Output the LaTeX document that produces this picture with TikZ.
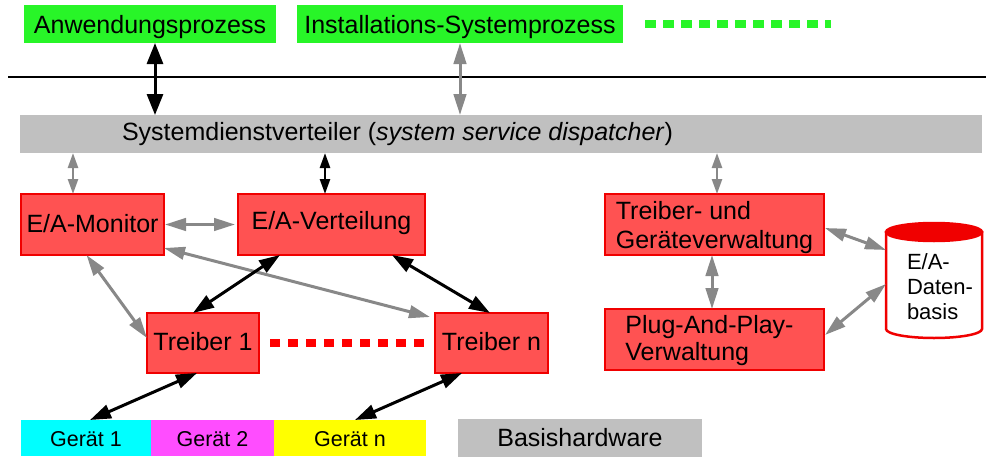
\documentclass[tikz,border=0pt]{standalone}
\usepackage{fontspec}
\setmainfont{Liberation Sans}
\usetikzlibrary{arrows.meta}
\definecolor{boxgreen}{RGB}{40,245,40}
\definecolor{boxred}{RGB}{255,82,82}
\definecolor{bordred}{RGB}{240,0,0}
\definecolor{bargray}{RGB}{192,192,192}
\definecolor{arrgray}{RGB}{136,136,136}
\definecolor{gcyan}{RGB}{0,255,255}
\definecolor{gmag}{RGB}{255,77,255}
\definecolor{gyel}{RGB}{255,255,0}
\begin{document}
\begin{tikzpicture}[x=1pt,y=-1pt,
 every node/.style={inner sep=0pt, outer sep=0pt, font=\fontsize{25}{29}\selectfont, text height=18pt},
 procbox/.style={fill=boxgreen, minimum height=38pt, text depth=0pt},
 redbox/.style={fill=boxred, draw=bordred, line width=2pt, align=left},
 devbox/.style={minimum height=36pt, text depth=0.6pt, font=\fontsize{21.5}{26}\selectfont},
 blk/.style={draw=black, line width=3pt, {Triangle[length=21pt,width=14pt]}-{Triangle[length=21pt,width=14pt]}},
 blkbig/.style={draw=black, line width=3pt, {Triangle[length=21pt,width=16pt]}-{Triangle[length=21pt,width=16pt]}},
 blksmall/.style={draw=black, line width=2.5pt, {Triangle[length=15pt,width=10pt]}-{Triangle[length=15pt,width=10pt]}},
 gry/.style={draw=arrgray, line width=3pt, {Triangle[length=21pt,width=12.5pt]}-{Triangle[length=21pt,width=12.5pt]}},
 grysmall/.style={draw=arrgray, line width=2.5pt, {Triangle[length=15pt,width=10pt]}-{Triangle[length=15pt,width=10pt]}},
 dotline/.style={line width=8pt, dash pattern=on 10pt off 8pt},
]
\useasboundingbox (0,0) rectangle (997,461);

% top processes
\node[procbox, minimum width=252pt] (anw) at (150,24) {Anwendungsprozess};
\node[procbox, minimum width=326pt] (inst) at (460,24) {Installations-Systemprozess};
\draw[dotline, draw=boxgreen, dash pattern=on 11pt off 7pt] ([xshift=22pt]inst.east) -- ([xshift=208pt]inst.east);

% separator line
\coordinate (la) at (8,77);
\coordinate (lb) at (986,77);
\draw[line width=2.5pt] (la) -- (lb);

% dispatcher
\node[fill=bargray, minimum width=962pt, minimum height=38pt] (bar) at (501,134) {};
\node[anchor=west, text depth=6pt] (bartxt) at (122,134) {Systemdienstverteiler (\textit{system service dispatcher})};

% red boxes
\node[redbox, minimum width=143pt, minimum height=61pt, text depth=1.6pt] (mon) at (92.5,224.5) {E/A-Monitor};
\node[redbox, minimum width=187pt, minimum height=61pt, text depth=8.4pt] (vert) at (331.5,224.5) {E/A-Verteilung};
\node[redbox, minimum width=112pt, minimum height=60pt, text depth=4pt] (tr1) at (203,343) {Treiber 1};
\node[redbox, minimum width=113pt, minimum height=60pt, text depth=4pt] (trn) at (491.5,343) {Treiber n};
\node[redbox, minimum width=219pt, minimum height=61pt, text height=48pt, text depth=0.4pt, font=\fontsize{25}{29.3}\selectfont] (tgv) at (714.5,224.5) {Treiber- und\\Geräteverwaltung};
\node[redbox, minimum width=219pt, minimum height=61pt, text height=43pt, text depth=0.6pt, font=\fontsize{25}{27.4}\selectfont] (pnp) at (714.5,339.5) {Plug-And-Play-\hspace*{10pt}\\Verwaltung};
\draw[dotline, draw=red] ([xshift=11pt]tr1.east) -- ([xshift=-10pt]trn.west);

% database
\node[minimum width=96pt, minimum height=115pt] (db) at (934,280.5) {};
\draw[draw=bordred, line width=2.5pt, fill=white] ([yshift=-9pt]db.north west) -- ([yshift=9pt]db.south west)
  arc[start angle=180, end angle=360, x radius=48pt, y radius=9pt] -- ([yshift=-9pt]db.north east) -- cycle;
\draw[draw=bordred, line width=2.5pt, fill=bordred] ([yshift=-9pt]db.north) ellipse [x radius=48pt, y radius=9pt];
\node[align=left, anchor=base west, text height=66pt, text depth=0pt, font=\fontsize{22}{25}\selectfont] (dbtxt) at (907,319) {E/A-\\Daten-\\basis};

% devices
\node[devbox, fill=gcyan, minimum width=130pt] (g1) at (86,438) {Gerät 1};
\node[devbox, fill=gmag, minimum width=123pt] (g2) at (212.5,438) {Gerät 2};
\node[devbox, fill=gyel, minimum width=152pt] (gn) at (350,438) {Gerät n};
\node[fill=bargray, minimum width=244pt, minimum height=38pt, text depth=2pt] (bh) at (580,438) {Basishardware};

% connectors
\coordinate (a1) at ([xshift=5pt]anw.south);
\draw[blkbig] (a1) -- (a1 |- bar.north);
\draw[gry] (inst.south) -- (inst.south |- bar.north);
\coordinate (m1) at ([xshift=-19.5pt]mon.north);
\draw[grysmall] (m1 |- bar.south) -- (m1);
\coordinate (v1) at ([xshift=-6.5pt]vert.north);
\draw[blksmall] (v1 |- bar.south) -- (v1);
\coordinate (t1) at ([xshift=2.5pt]tgv.north);
\draw[grysmall] (t1 |- bar.south) -- (t1);
\draw[gry] ([xshift=1pt]mon.east) -- ([xshift=-3pt]vert.west);
\draw[gry] ([xshift=-6pt]mon.south) -- ([yshift=5pt]tr1.west);
\draw[gry] ([yshift=-23.5pt]mon.east) -- ([xshift=-5pt,yshift=-4pt]trn.north west);
\draw[blk] ([xshift=-10pt]tr1.north) -- ([xshift=-51.5pt]vert.south);
\draw[blk] ([xshift=60.5pt]vert.south) -- ([xshift=-1.5pt]trn.north);
\draw[blk] ([xshift=4pt]g1.north) -- ([xshift=-6pt]tr1.south);
\draw[blk] ([xshift=5pt]gn.north) -- ([xshift=-29.5pt]trn.south);
\draw[gry] ([xshift=-2.5pt]tgv.south) -- ([xshift=-2.5pt]pnp.north);
\draw[gry] ([xshift=1pt,yshift=-3.5pt]tgv.east) -- ([yshift=30.5pt]db.west);
\draw[gry] ([xshift=1pt,yshift=4.5pt]pnp.east) -- ([yshift=-3.5pt]db.west);
\end{tikzpicture}
\end{document}
